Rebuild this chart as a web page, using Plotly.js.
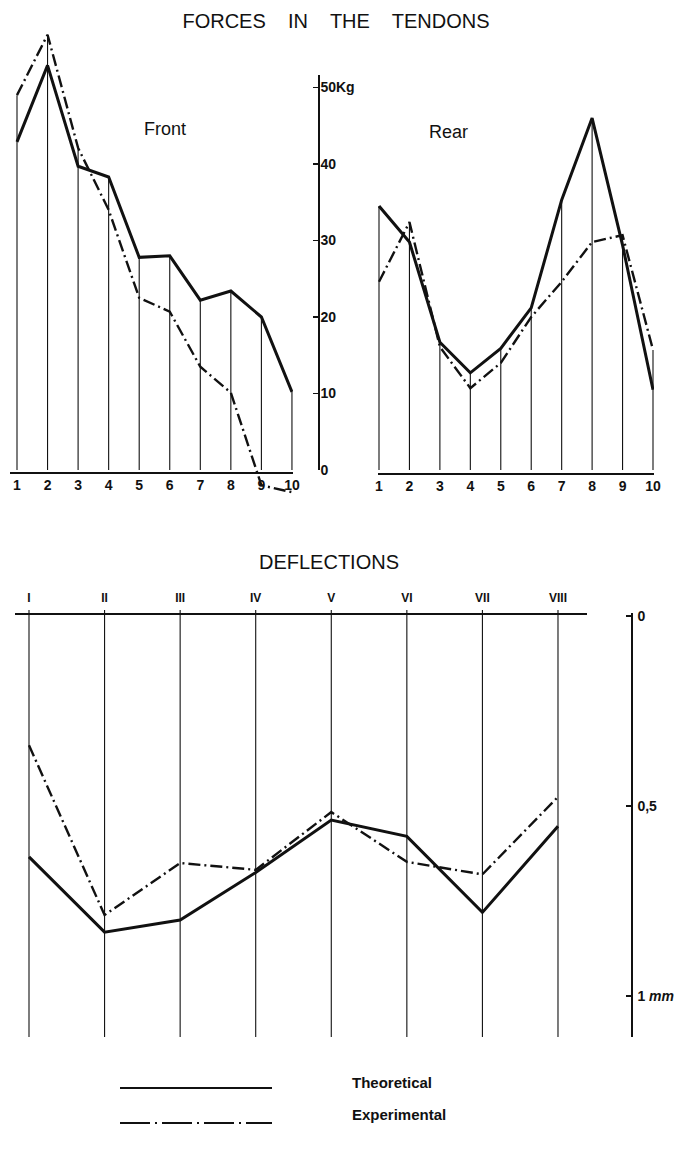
<!DOCTYPE html>
<html><head><meta charset="utf-8">
<script src="https://cdn.plot.ly/plotly-3.0.1.min.js"></script>
<style>html,body{margin:0;padding:0;background:#fff}#chart{width:680px;height:1151px}</style>
</head><body><div id="chart"></div>
<script>
// ---------- data ----------
const tendons = [1,2,3,4,5,6,7,8,9,10];
const frontTheoretical  = [42.9,52.9,39.7,38.3,27.8,28.0,22.2,23.4,20.0,10.2];
const frontExperimental = [49.0,56.9,42.1,34.0,22.5,20.7,13.5,10.1,-2.0,-2.9];
const rearTheoretical   = [34.5,29.8,16.7,12.7,15.9,21.2,35.3,46.0,29.4,10.5];
const rearExperimental  = [24.6,32.4,16.1,10.7,14.0,20.0,24.6,29.8,30.7,15.7];
const forceTicks    = [0,10,20,30,40,50];
const forceTickText = ['0','10','20','30','40','50Kg'];

const sections = ['I','II','III','IV','V','VI','VII','VIII'];
const deflTheoretical  = [0.634,0.832,0.800,0.675,0.537,0.580,0.780,0.553];
const deflExperimental = [0.340,0.787,0.650,0.668,0.516,0.647,0.680,0.476];
const deflTicks    = [0,0.5,1];
const deflTickText = ['0','0,5','1 <i>mm</i>'];

const legendNames = ['Theoretical','Experimental'];

// ---------- helpers ----------
const W = 680, H = 1151;
const px = v => v / W;
const py = v => 1 - v / H;
const INK = '#111';
const FONT = 'Liberation Sans, Arial, sans-serif';
const DASHDOT = '12px,4px,2px,4px';

function stems(xs, a, b, base) {
  const X = [], Y = [];
  xs.forEach((x, i) => { X.push(x, x, null); Y.push(base, Math.max(a[i], b[i]), null); });
  return {X, Y};
}
function fullStems(xs, top, bottom) {
  const X = [], Y = [];
  xs.forEach(x => { X.push(x, x, null); Y.push(top, bottom, null); });
  return {X, Y};
}

const fs = stems(tendons, frontTheoretical, frontExperimental, 0);
const rs = stems(tendons, rearTheoretical, rearExperimental, 0);
const ds = fullStems(sections, -0.016, 1.108);

const common = {mode: 'lines', showlegend: false, hoverinfo: 'skip'};
const data = [
  Object.assign({x: fs.X, y: fs.Y, xaxis: 'x', yaxis: 'y', line: {color: INK, width: 1.1}}, common),
  Object.assign({x: tendons, y: frontTheoretical, xaxis: 'x', yaxis: 'y', line: {color: INK, width: 3}}, common),
  Object.assign({x: tendons, y: frontExperimental, xaxis: 'x', yaxis: 'y', line: {color: INK, width: 2.4, dash: DASHDOT}}, common),

  Object.assign({x: rs.X, y: rs.Y, xaxis: 'x2', yaxis: 'y', line: {color: INK, width: 1.1}}, common),
  Object.assign({x: tendons, y: rearTheoretical, xaxis: 'x2', yaxis: 'y', line: {color: INK, width: 3}}, common),
  Object.assign({x: tendons, y: rearExperimental, xaxis: 'x2', yaxis: 'y', line: {color: INK, width: 2.4, dash: DASHDOT}}, common),

  Object.assign({x: ds.X, y: ds.Y, xaxis: 'x3', yaxis: 'y3', line: {color: INK, width: 1.1}}, common),
  Object.assign({x: sections, y: deflTheoretical, xaxis: 'x3', yaxis: 'y3', line: {color: INK, width: 3}}, common),
  Object.assign({x: sections, y: deflExperimental, xaxis: 'x3', yaxis: 'y3', line: {color: INK, width: 2.4, dash: DASHDOT}}, common),

  // carriers for the two scale axes
  Object.assign({x: [], y: [], xaxis: 'x', yaxis: 'y2'}, common),
  Object.assign({x: [], y: [], xaxis: 'x3', yaxis: 'y4'}, common)
];

const fSlope = 7.65, f0 = 470;      // px per kg, px of 0 kg
const dSlope = 380, d0 = 616;       // px per mm, px of 0 mm
const fSp = 30.55, rSp = 30.44, dSp = 75.57;

const tickBold = size => ({size: size, family: FONT, weight: 'bold', color: INK});
const ann = (text, x, y, size, bold, xanchor) => ({
  text: text, xref: 'paper', yref: 'paper', x: px(x), y: py(y), xanchor: xanchor || 'center', yanchor: 'middle',
  showarrow: false, font: {size: size, family: FONT, color: INK, weight: bold ? 'bold' : 'normal'}
});
const GAP = '&nbsp;&nbsp;&nbsp; ';

const layout = {
  width: W, height: H,
  margin: {l: 0, r: 0, t: 0, b: 0},
  paper_bgcolor: '#fff', plot_bgcolor: 'rgba(0,0,0,0)',
  font: {family: FONT, color: INK},
  showlegend: false,
  title: {text: ['FORCES', 'IN', 'THE', 'TENDONS'].join(GAP), x: px(336), xanchor: 'center', y: py(21), yanchor: 'middle',
          font: {size: 20, family: FONT, color: INK}},
  xaxis: {domain: [px(10), px(293)], range: [1 - 7 / fSp, 1 + 276 / fSp], anchor: 'free', position: py(472),
          showline: true, linecolor: INK, linewidth: 1.6, ticks: '', showgrid: false, zeroline: false,
          tickvals: tendons, tickfont: tickBold(14), fixedrange: true},
  xaxis2: {domain: [px(378), px(654)], range: [1 - 1 / rSp, 10 + 1 / rSp], anchor: 'free', position: py(473),
          showline: true, linecolor: INK, linewidth: 1.6, ticks: '', showgrid: false, zeroline: false,
          tickvals: tendons, tickfont: tickBold(14), fixedrange: true},
  yaxis: {domain: [py(500), py(20)], range: [(f0 - 500) / fSlope, (f0 - 20) / fSlope], anchor: 'x',
          visible: false, fixedrange: true},
  yaxis2: {domain: [py(470), py(75)], range: [0, (f0 - 75) / fSlope], anchor: 'free', position: px(318), side: 'right',
          showline: true, linecolor: INK, linewidth: 1.6, ticks: 'inside', ticklen: 5, tickwidth: 1.6, tickcolor: INK,
          ticklabelstandoff: -2,
          showgrid: false, zeroline: false, tickvals: forceTicks, ticktext: forceTickText,
          tickfont: tickBold(14), fixedrange: true},
  xaxis3: {domain: [px(15), px(587)], type: 'category', categoryarray: sections,
          range: [(15 - 29) / dSp, (587 - 29) / dSp], anchor: 'free', position: py(613), side: 'top',
          showline: true, linecolor: INK, linewidth: 1.6, ticks: '', showgrid: false, zeroline: false,
          ticklabelstandoff: 6,
          tickfont: tickBold(12), fixedrange: true},
  yaxis3: {domain: [py(1045), py(600)], range: [(1045 - d0) / dSlope, (600 - d0) / dSlope], anchor: 'x3',
          visible: false, fixedrange: true},
  yaxis4: {domain: [py(1037), py(613)], range: [(1037 - d0) / dSlope, (613 - d0) / dSlope], anchor: 'free',
          position: px(631), side: 'right', showline: true, linecolor: INK, linewidth: 1.6,
          ticks: 'inside', ticklen: 5, tickwidth: 1.6, tickcolor: INK, showgrid: false, zeroline: false,
          ticklabelstandoff: 2,
          tickvals: deflTicks, ticktext: deflTickText, tickfont: tickBold(14),
          fixedrange: true},
  annotations: [
    ann('Front', 165, 129, 18, false),
    ann('Rear', 448, 132, 18, false),
    ann('DEFLECTIONS', 329, 562, 20, false),
    ann(legendNames[0], 350, 1082, 15, true, 'left'),
    ann(legendNames[1], 350, 1114, 15, true, 'left')
  ],
  shapes: [
    {type: 'line', xref: 'paper', yref: 'paper', x0: px(120), x1: px(272), y0: py(1088), y1: py(1088),
     line: {color: INK, width: 2}},
    {type: 'line', xref: 'paper', yref: 'paper', x0: px(120), x1: px(272), y0: py(1123), y1: py(1123),
     line: {color: INK, width: 2, dash: '30px,5px,2px,5px'}}
  ]
};

Plotly.newPlot('chart', data, layout, {staticPlot: true, displayModeBar: false});
</script>
</body></html>
